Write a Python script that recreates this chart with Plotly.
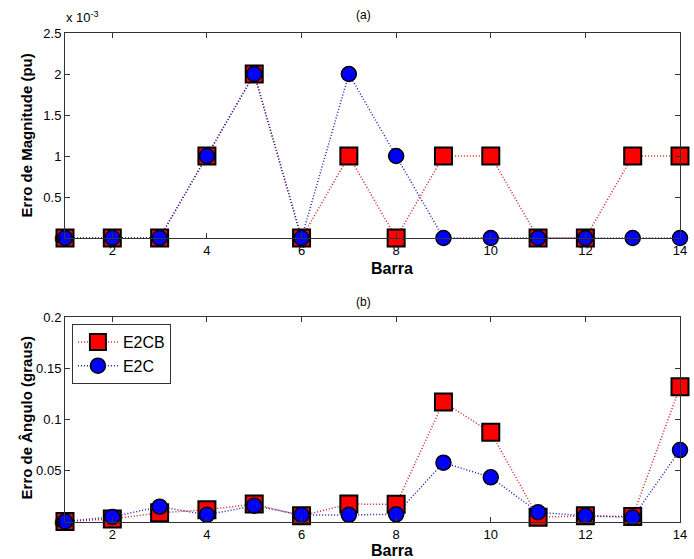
import plotly.graph_objects as go

barra = list(range(1, 15))
mag_e2cb = [0, 0, 0, 0.001, 0.002, 0, 0.001, 0, 0.001, 0.001, 0, 0, 0.001, 0.001]
mag_e2c = [0, 0, 0, 0.001, 0.002, 0, 0.002, 0.001, 0, 0, 0, 0, 0, 0]
ang_e2cb = [0.0005, 0.003, 0.009, 0.012, 0.0175, 0.006, 0.0175, 0.0173, 0.117, 0.0875, 0.0046, 0.006, 0.0054, 0.132]
ang_e2c = [0.0005, 0.005, 0.015, 0.007, 0.0159, 0.0068, 0.007, 0.0075, 0.0579, 0.0436, 0.0095, 0.006, 0.0044, 0.0702]

W, H = 694, 559
L, R, T, B = 65, 7, 33, 37
ph = H - T - B
FONT = "Liberation Sans, Arial"

def py(pix):
    return (H - B - pix) / ph

def ax_x(pix):
    return (pix - L) / (W - L - R)

fig = go.Figure()
red_m = dict(symbol="square", size=17, color="#ff0000", line=dict(color="black", width=2))
blue_m = dict(symbol="circle", size=15, color="#0000ff", line=dict(color="black", width=1.5))
red_l = dict(color="#d02020", width=1.5, dash="1px,2px")
blue_l = dict(color="#2020b0", width=1.5, dash="1px,2px")

fig.add_trace(go.Scatter(x=barra, y=mag_e2cb, mode="lines+markers", marker=red_m, line=red_l,
                         xaxis="x", yaxis="y", showlegend=False, cliponaxis=False))
fig.add_trace(go.Scatter(x=barra, y=mag_e2c, mode="lines+markers", marker=blue_m, line=blue_l,
                         xaxis="x", yaxis="y", showlegend=False, cliponaxis=False))
fig.add_trace(go.Scatter(x=barra, y=ang_e2cb, mode="lines+markers", marker=red_m, line=red_l,
                         xaxis="x2", yaxis="y2", name="E2CB", cliponaxis=False))
fig.add_trace(go.Scatter(x=barra, y=ang_e2c, mode="lines+markers", marker=blue_m, line=blue_l,
                         xaxis="x2", yaxis="y2", name="E2C", cliponaxis=False))

axcommon = dict(showline=True, linecolor="#333", linewidth=1, mirror="allticks", ticks="inside",
                ticklen=5, tickcolor="#333", showgrid=False, zeroline=False,
                ticklabeloverflow="allow",
                tickfont=dict(family=FONT, size=13, color="black"))

top_dom = [py(238), 1.0]
bot_dom = [0.0, py(317)]

fig.update_layout(
    width=W, height=H, margin=dict(l=L, r=R, t=T, b=B),
    paper_bgcolor="white", plot_bgcolor="white",
    font=dict(family=FONT, color="black"),
    xaxis=dict(domain=[0, 1], range=[1, 14], tickvals=[2, 4, 6, 8, 10, 12, 14], anchor="y", **axcommon),
    yaxis=dict(domain=top_dom, range=[0, 0.0025],
               tickvals=[0, 0.0005, 0.001, 0.0015, 0.002, 0.0025],
               ticktext=["0", "0.5", "1", "1.5", "2", "2.5"], anchor="x", **axcommon),
    xaxis2=dict(domain=[0, 1], range=[1, 14], tickvals=[2, 4, 6, 8, 10, 12, 14], anchor="y2", **axcommon),
    yaxis2=dict(domain=bot_dom, range=[0, 0.2],
                tickvals=[0, 0.05, 0.1, 0.15, 0.2],
                ticktext=["0", "0.05", "0.1", "0.15", "0.2"], anchor="x2", **axcommon),
    legend=dict(x=ax_x(72), y=py(324), xanchor="left", yanchor="top",
                bordercolor="#333", borderwidth=1, bgcolor="white",
                font=dict(family=FONT, size=16, color="black"),
                tracegroupgap=0, itemwidth=40),
)

def add_text(xp, yp, text, size, angle=0, xanchor="center"):
    fig.add_annotation(x=ax_x(xp), y=py(yp), text=text, textangle=angle,
                       xanchor=xanchor, yanchor="middle", showarrow=False,
                       xref="paper", yref="paper",
                       font=dict(size=size, family=FONT, color="black"))

add_text(367, 15, "(a)", 12)
add_text(367, 302, "(b)", 12)
add_text(64, 17, "x 10<sup>-3</sup>", 13, xanchor="left")
add_text(396, 268, "<b>Barra</b>", 16)
add_text(396, 550, "<b>Barra</b>", 16)
add_text(26, 135, "<b>Erro de Magnitude (pu)</b>", 15, angle=-90)
add_text(26, 418, "<b>Erro de Ângulo (graus)</b>", 15, angle=-90)

fig.write_html("out.html")
